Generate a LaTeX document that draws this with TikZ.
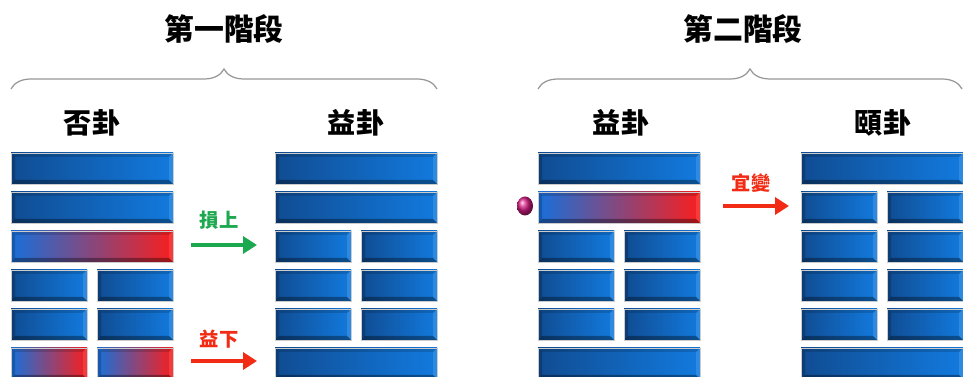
\documentclass[tikz,border=0pt]{standalone}
\usepackage{fontspec}
\newfontfamily\cjk{Noto Sans CJK TC}
\usetikzlibrary{positioning, arrows.meta}
\usetikzlibrary{decorations.pathreplacing}
\definecolor{yaoleft}{RGB}{16,76,146}
\definecolor{yaoright}{RGB}{18,122,222}
\definecolor{chgblue}{RGB}{24,112,218}
\definecolor{chgpurple}{RGB}{128,52,160}
\definecolor{chgred}{RGB}{248,30,30}
\definecolor{sungreen}{RGB}{28,168,78}
\definecolor{yired}{RGB}{242,44,20}
\definecolor{bracegray}{RGB}{150,150,150}
\definecolor{dotpink}{RGB}{214,28,132}
\tikzset{
    plain/.style={left color=yaoleft, right color=yaoright},
    change/.style={left color=chgblue, middle color=chgpurple, right color=chgred},
    stagetitle/.style={font=\cjk\bfseries\fontsize{17}{17}\selectfont},
    gualabel/.style={font=\cjk\bfseries\fontsize{16}{16}\selectfont},
    movelabel/.style={font=\cjk\bfseries\fontsize{11}{11}\selectfont},
    stagebrace/.style={bracegray, line width=0.7pt, decorate, decoration={brace, amplitude=0.4cm}},
    movearrow/.style={line width=0.09cm, -{Triangle[length=0.28cm, width=0.34cm]}},
  }
% one bar: left x, top y, width, shading
\newcommand{\yaobar}[4]{%
  \shade[#4] (#1,#2) rectangle ++(#3,31);
  \fill[black,opacity=.35] (#1,#2+31) -- ++(#3,0) -- ++(-4,-4) -- (#1+4,#2+27) -- cycle;
  \fill[black,opacity=.2] (#1,#2) -- (#1+4,#2+4) -- (#1+4,#2+27) -- (#1,#2+31) -- cycle;
  \fill[black,opacity=.15] (#1,#2) -- ++(#3,0) -- ++(-4,4) -- (#1+4,#2+4) -- cycle;
  \fill[white,opacity=.12] (#1+#3,#2) -- (#1+#3,#2+31) -- ++(-4,-4) -- ++(0,-23) -- cycle;
  \draw[gray!40,line width=.3pt] (#1,#2) rectangle ++(#3,31);
}
\newcommand{\yaoyang}[3]{\yaobar{#1}{153+39*#2}{162}{#3}}
\newcommand{\yaoyin}[3]{\yaobar{#1}{153+39*#2}{76}{#3}\yaobar{#1+86}{153+39*#2}{76}{#3}}

\begin{document}
\begin{tikzpicture}[x=0.02cm, y=-0.02cm]
	\useasboundingbox (0,0) rectangle (963,377);
	\clip (0,0) rectangle (963,377);

	% stage titles and braces
	\node[stagetitle] (stageone) at (224,29) {第一階段};
	\node[stagetitle] (stagetwo) at (743,29) {第二階段};
	\draw[stagebrace] (11,89) -- (437,89);
	\draw[stagebrace] (538,89) -- (962,89);

	\node[gualabel] (fou) at (92,123) {否卦};
	\node[gualabel] (yione) at (356,123) {益卦};
	\node[gualabel] (yitwo) at (621,123) {益卦};
	\node[gualabel] (yi) at (883,123) {頤卦};

	% hexagrams, top line first
	\foreach \t/\s [count=\yrow from 0] in {yang/plain,yang/plain,yang/change,yin/plain,yin/plain,yin/change}
		{\csname yao\t\endcsname{11}{\yrow}{\s}}
	\foreach \t [count=\yrow from 0] in {yang,yang,yin,yin,yin,yang}
		{\csname yao\t\endcsname{275}{\yrow}{plain}}
	\foreach \t/\s [count=\yrow from 0] in {yang/plain,yang/change,yin/plain,yin/plain,yin/plain,yang/plain}
		{\csname yao\t\endcsname{538}{\yrow}{\s}}
	\foreach \t [count=\yrow from 0] in {yang,yin,yin,yin,yin,yang}
		{\csname yao\t\endcsname{801}{\yrow}{plain}}

	\shade[ball color=dotpink] (525,206) ellipse (8 and 9.5);

	% moves
	\coordinate (sunA) at (191,245);
	\coordinate (sunB) at (257,245);
	\coordinate (yiA) at (191,361);
	\coordinate (yiB) at (257,361);
	\coordinate (bianA) at (723,206);
	\coordinate (bianB) at (789,206);
	\draw[movearrow, sungreen] (sunA) -- (sunB);
	\draw[movearrow, yired] (yiA) -- (yiB);
	\draw[movearrow, yired] (bianA) -- (bianB);
	\node[movelabel, sungreen] (sun) at (219,220) {損上};
	\node[movelabel, yired] (yixia) at (219,339) {益下};
	\node[movelabel, yired] (bian) at (751,183) {宜變};
\end{tikzpicture}
\end{document}
